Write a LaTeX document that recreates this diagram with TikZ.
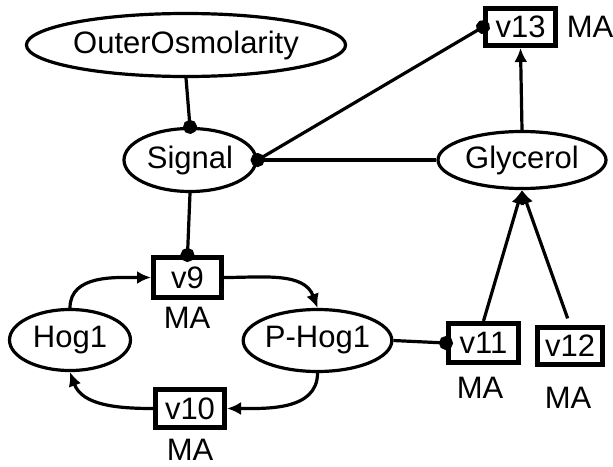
\documentclass[tikz,border=0pt]{standalone}
\usepackage{fontspec}
\setmainfont{Liberation Sans}
\usetikzlibrary{shapes.geometric,arrows.meta}
\begin{document}
\begin{tikzpicture}[x=1pt,y=1pt,
  font=\fontsize{31}{33}\selectfont,
  species/.style={ellipse,draw,line width=3.2pt,inner sep=0pt},
  reaction/.style={rectangle,draw,line width=5pt,inner sep=0pt},
  kinetic/.style={inner sep=0pt},
  link/.style={line width=3.2pt},
  modifier/.style={link,-{Circle[length=14pt,width=14pt]},shorten >=-7pt},
  flow/.style={link,-{Latex[length=14pt,width=13pt]}}]

  \useasboundingbox (0,0) rectangle (613,-466);

  % species
  \node[species,minimum width=265pt,minimum height=63pt] (outer) at (186,-45) {OuterOsmolarity};
  \node[species,minimum width=132pt,minimum height=63pt] (signal) at (190,-160) {Signal};
  \node[species,minimum width=168pt,minimum height=57pt] (glycerol) at (522,-160) {Glycerol};
  \node[species,minimum width=121pt,minimum height=61pt] (hog) at (70,-340) {Hog1};
  \node[species,minimum width=146pt,minimum height=62pt] (phog) at (317.5,-340.5) {P-Hog1};

  % reactions
  \node[reaction,minimum width=68pt,minimum height=40pt] (v9) at (187.5,-277.5) {v9};
  \node[reaction,minimum width=69pt,minimum height=38pt] (v10) at (190,-408.5) {v10};
  \node[reaction,minimum width=70pt,minimum height=39pt] (v11) at (483.5,-343) {v11};
  \node[reaction,minimum width=65pt,minimum height=37pt] (v12) at (570,-346) {v12};
  \node[reaction,minimum width=70pt,minimum height=37pt] (v13) at (520.5,-27) {v13};

  % kinetic law labels
  \node[kinetic] (ma9) at (187,-318) {MA};
  \node[kinetic] (ma10) at (190,-450) {MA};
  \node[kinetic] (ma11) at (480,-388) {MA};
  \node[kinetic] (ma12) at (568,-398) {MA};
  \node[kinetic] (ma13) at (590,-27) {MA};

  % modifiers
  \draw[modifier] (outer.south) -- (signal.north);
  \draw[modifier] (signal.south) -- (v9.north);
  \draw[modifier] (glycerol.west) -- (signal.east);
  \draw[modifier] (signal.east) -- (v13.west);
  \draw[modifier] (phog.east) -- (v11.west);

  % reaction flows
  \draw[flow] (hog.north) to[out=90,in=180] (v9.west);
  \draw[flow] (v9.east) to[out=0,in=110] (phog.north);
  \draw[flow] (phog.south) to[out=-90,in=0] (v10.east);
  \draw[flow] (v10.west) to[out=180,in=-70] (hog.south);
  \draw[flow] (glycerol.north) -- (v13.south);
  \draw[flow] (v11.north) -- (glycerol.south);
  \draw[flow,shorten <=7pt] (v12.north) -- (glycerol.south);
\end{tikzpicture}
\end{document}
